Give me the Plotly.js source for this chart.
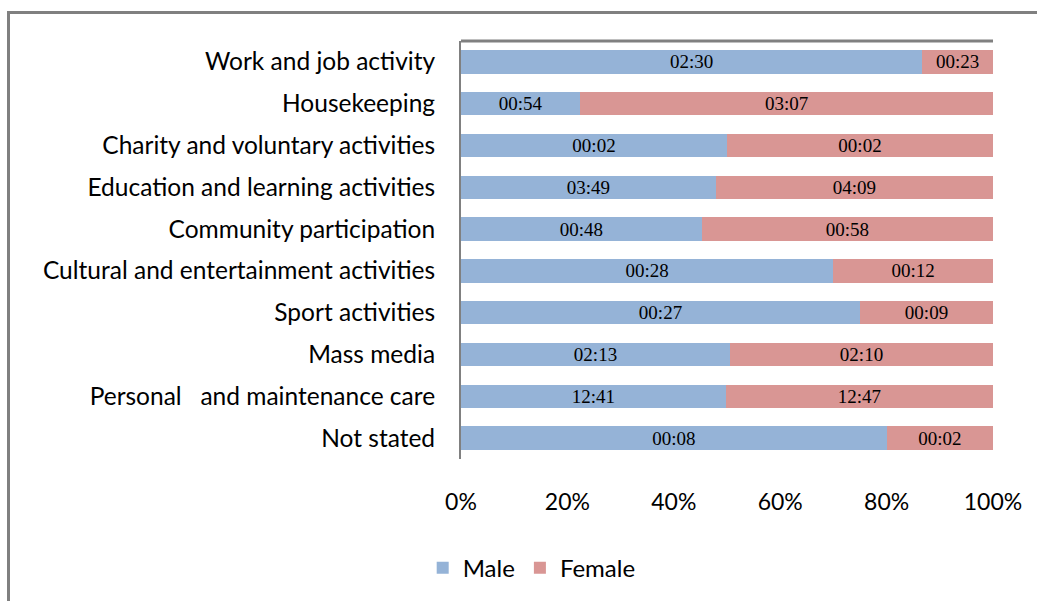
<!DOCTYPE html>
<html>
<head>
<meta charset="utf-8">
<script src="https://cdn.plot.ly/plotly-3.0.1.min.js"></script>
<style>
  html, body { margin: 0; padding: 0; background: #fff; }
  #wrap { position: relative; width: 1037px; height: 601px; }
  #chart { width: 1037px; height: 601px; }
  #frame { position: absolute; left: 7px; top: 11px; width: 1040px; height: 600px;
           border-left: 3px solid #808080; border-top: 3px solid #808080; pointer-events: none; }
</style>
</head>
<body>
<div id="wrap">
  <div id="chart"></div>
  <div id="frame"></div>
</div>
<script>
// Categories, top to bottom
const categories = [
  "Work and job activity",
  "Housekeeping",
  "Charity and voluntary activities",
  "Education and learning activities",
  "Community participation",
  "Cultural and entertainment activities",
  "Sport activities",
  "Mass media",
  "Personal   and maintenance care",
  "Not stated"
];
// Average time (hh:mm) per series
const maleTime   = ["02:30","00:54","00:02","03:49","00:48","00:28","00:27","02:13","12:41","00:08"];
const femaleTime = ["00:23","03:07","00:02","04:09","00:58","00:12","00:09","02:10","12:47","00:02"];
const tickVals   = [0, 20, 40, 60, 80, 100];
const tickText   = ["0%", "20%", "40%", "60%", "80%", "100%"];

function toMinutes(s) { const p = s.split(":"); return (+p[0]) * 60 + (+p[1]); }

const ylabels = categories.map(c => c.replace(/ /g, "\u00a0"));

const common = {
  type: "bar",
  orientation: "h",
  y: ylabels,
  textposition: "inside",
  insidetextanchor: "middle",
  textangle: 0,
  constraintext: "none",
  textfont: { family: "Liberation Serif, serif", size: 19, color: "#000" },
  hoverinfo: "skip"
};

const traces = [
  Object.assign({}, common, {
    name: "Male",
    x: maleTime.map(toMinutes),
    text: maleTime,
    marker: { color: "#95B3D7" }
  }),
  Object.assign({}, common, {
    name: "Female",
    x: femaleTime.map(toMinutes),
    text: femaleTime,
    marker: { color: "#D99694" }
  })
];

const layout = {
  width: 1037, height: 601,
  margin: { l: 461, r: 44, t: 41, b: 141 },
  paper_bgcolor: "#fff", plot_bgcolor: "#fff",
  barmode: "stack",
  barnorm: "percent",
  bargap: 0.44,
  showlegend: true,
  legend: {
    orientation: "h", x: -0.072, xanchor: "left", y: -0.258, yanchor: "middle",
    font: { family: "Lato, sans-serif", size: 24, color: "#000" },
    itemwidth: 30, tracegroupgap: 0, traceorder: "normal"
  },
  xaxis: {
    range: [0, 100], tickvals: tickVals, ticktext: tickText,
    showgrid: false, zeroline: false, showline: false, ticks: "",
    ticklabelstandoff: 27,
    tickfont: { family: "Lato, sans-serif", size: 23, color: "#000" },
    fixedrange: true
  },
  yaxis: {
    type: "category", autorange: "reversed",
    showgrid: false, zeroline: false,
    showline: true, linecolor: "#808080", linewidth: 2,
    ticks: "", ticklabelstandoff: 19,
    tickfont: { family: "Lato, sans-serif", size: 24.5, color: "#000" },
    fixedrange: true
  },
  shapes: [
    { type: "line", xref: "paper", yref: "paper", x0: 0, x1: 1, y0: 1, y1: 1,
      line: { color: "#808080", width: 3 } }
  ]
};

Plotly.newPlot("chart", traces, layout, { displayModeBar: false, staticPlot: true });
</script>
</body>
</html>
